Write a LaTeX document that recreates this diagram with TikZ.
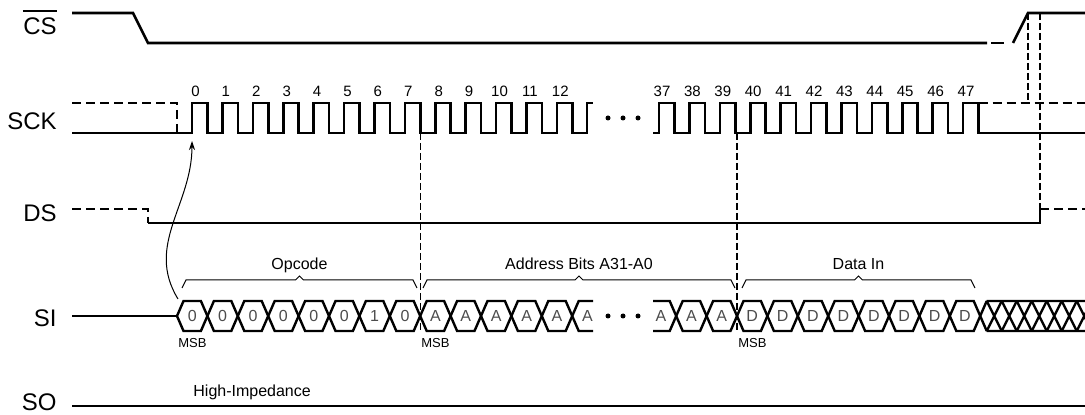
\documentclass[tikz,border=0pt]{standalone}
\usepackage{fontspec}
\setmainfont{Liberation Sans}
\usetikzlibrary{arrows.meta}
\definecolor{bitgray}{gray}{0.3}

\begin{document}
\begin{tikzpicture}[x=0.5pt,y=-0.5pt,
  sig/.style={line width=1.3pt},
  sigdash/.style={line width=1.3pt,dash pattern=on 4.5pt off 2.5pt},
  guide/.style={line width=0.6pt,dash pattern=on 3.5pt off 1.5pt},
  hexa/.style={line width=1.2pt,line join=miter},
  brc/.style={line width=0.5pt},
  sname/.style={anchor=base east,inner sep=0pt,font=\fontsize{12}{14}\selectfont},
  num/.style={anchor=base,inner sep=0pt,font=\fontsize{7.5}{9}\selectfont},
  bit/.style={inner sep=0pt,font=\fontsize{8}{9}\selectfont,text=bitgray},
  small/.style={anchor=base,inner sep=0pt,font=\fontsize{8}{9}\selectfont},
  msb/.style={anchor=base west,inner sep=0pt,font=\fontsize{6.5}{8}\selectfont}]
\useasboundingbox (0,0) rectangle (1085,415);
\node[sname] (cs) at (57,35) {CS};
\draw[line width=0.9pt] ([yshift=3.3pt]cs.north west) -- ([yshift=3.3pt]cs.north east);
\node[sname] (sck) at (57,130) {SCK};
\node[sname] (ds) at (57,222) {DS};
\node[sname] (si) at (57,327) {SI};
\node[sname] (so) at (57,411) {SO};
\draw[sig] (72,13) -- (133,13) -- (148,43) -- (987,43);
\draw[sig] (991,43) -- (1004,43);
\draw[sig] (1013,43) -- (1028,13) -- (1085,13);
\draw[sigdash] (72,103) -- (177,103) -- (177,133);
\draw[sig] (72,133) \foreach \k in {0,...,12} { -- ({192+30.4*\k},133) -- ++(0,-30) -- ++(15.5,0) -- ++(0,30) } -- (587,133) -- (587,103) -- (593,103);
\draw[sig] (653,133) \foreach \k in {37,...,47} { -- ({963-30.4*(47-\k)},133) -- ++(0,-30) -- ++(15.5,0) -- ++(0,30) } -- (1085,133);
\draw[sigdash] (978.5,103) -- (1085,103);
\foreach \k in {0,...,12}
\node[num] (n\k) at ({195.5+30.4*\k},97) {\k};
\foreach \k in {37,...,47}
\node[num] (n\k) at ({966-30.4*(47-\k)},97) {\k};
\foreach \x in {608,623,638}
\fill (\x,118) circle[radius=2.5];
\draw[sigdash] (72,209) -- (148,209) -- (148,223);
\draw[sig] (148,223) -- (1040,223) -- (1040,209);
\draw[sigdash] (1040,209) -- (1085,209);
\draw[sig] (72,316) -- (177,316);
\foreach \v [count=\i from 0] in {0,0,0,0,0,0,1,0,A,A,A,A,A} {
\draw[hexa] ({177+30.4*\i},316) -- ++(6.5,-15) -- ++(17.4,0) -- ++(6.5,15) -- ++(-6.5,15) -- ++(-17.4,0) -- cycle;
\node[bit] (b\i) at ({192.2+30.4*\i},316) {\v};
}
\draw[hexa] (593,301) -- (578.7,301) -- (572.2,316) -- (578.7,331) -- (593,331);
\node[bit] (b13) at (587.4,316) {A};
\foreach \x in {608,623,638}
\fill (\x,316) circle[radius=2.5];
\draw[hexa] (653,301) -- (669.7,301) -- (676.2,316) -- (669.7,331) -- (653,331);
\node[bit] (b37) at (661,316) {A};
\foreach \v [count=\i from 38] in {A,A,D,D,D,D,D,D,D,D} {
\draw[hexa] ({30.4*\i-479},316) -- ++(6.5,-15) -- ++(17.4,0) -- ++(6.5,15) -- ++(-6.5,15) -- ++(-17.4,0) -- cycle;
\node[bit] (b\i) at ({30.4*\i-463.8},316) {\v};
}
\draw[hexa] (986.7,301) -- (980.2,316) -- (986.7,331) (986.7,301) -- (1085,301) (986.7,331) -- (1085,331);
\foreach \k in {0,...,6}
\draw[hexa] ({986.7+15*\k},301) -- ++(15,30) ({986.7+15*\k},331) -- ++(15,-30);
\foreach \a/\b/\n/\t in {182/417/op/Opcode, 423/735/addr/Address Bits A31-A0, 742/975/din/Data In} {
\draw[brc] (\a,288) -- ++(4,-8) -- ({(\a+\b)/2-4},280) -- ++(4,-4) -- ++(4,4) -- ({\b-4},280) -- (\b,288);
\node[small] (\n) at ({(\a+\b)/2},270) {\t};
}
\node[msb] (msb0) at (178,348) {MSB};
\node[msb] (msb8) at (421,348) {MSB};
\node[msb] (msb40) at (738,348) {MSB};
\draw[guide] (420.2,133) -- (420.2,333);
\draw[guide] (737,133) -- (737,333);
\draw[guide] (1028,13) -- (1028,103);
\draw[guide] (1040,13) -- (1040,209);
\coordinate (src) at (178,299);
\coordinate (dst) at (192,141);
\draw[brc,-{Stealth[length=4.5pt,width=3pt]}] (src) .. controls (145,245) and (192,205) .. (dst);
\draw[sig] (72,406) -- (1085,406);
\node[small,anchor=base west] (hiz) at (193,397) {High-Impedance};
\end{tikzpicture}
\end{document}
